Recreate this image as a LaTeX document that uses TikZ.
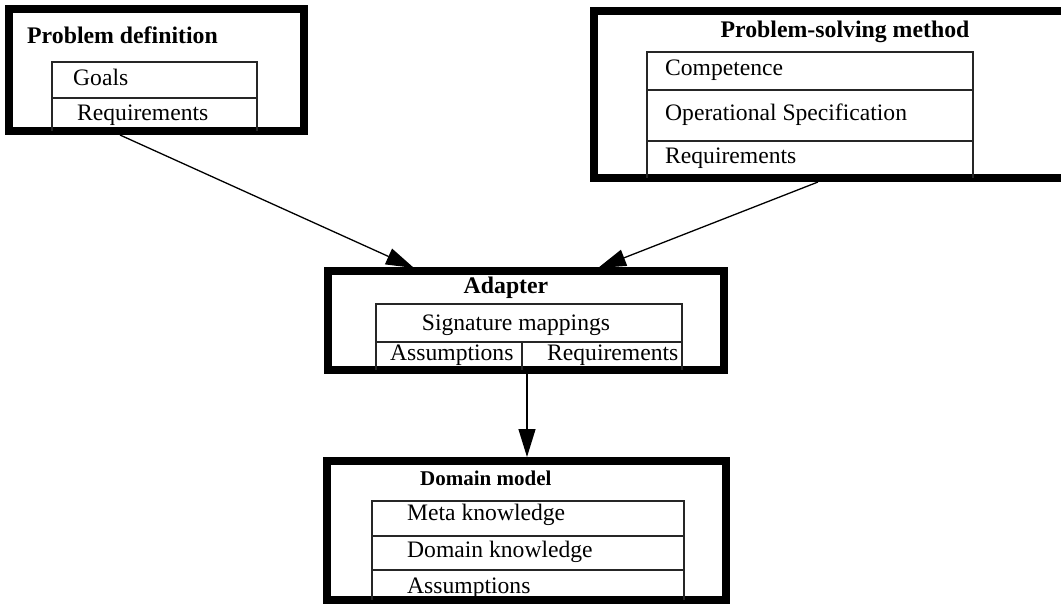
\documentclass[tikz,border=0pt]{standalone}
\usepackage{fontspec}
\setmainfont{Liberation Serif}
\usetikzlibrary{arrows.meta}
\begin{document}
\begin{tikzpicture}[x=1pt,y=-1pt,
  outerbox/.style={draw=black,line width=8pt,inner sep=0pt,rectangle},
  innerline/.style={draw=black!85,line width=1.3pt},
  lbl/.style={anchor=base west,inner sep=0pt,font=\fontsize{23.6}{28}\selectfont},
  ttl/.style={anchor=base,inner sep=0pt,font=\fontsize{23.8}{28}\selectfont\bfseries},
  conn/.style={draw=black,line width=1.3pt,-{Triangle[length=28pt,width=17pt]}}]
\useasboundingbox (0,0) rectangle (1061,603);
% outer boxes
\node[outerbox,minimum width=295pt,minimum height=122pt] (pd) at (156.5,70) {};
\node[outerbox,minimum width=472pt,minimum height=167pt] (psm) at (830,94.5) {};
\node[outerbox,minimum width=396pt,minimum height=99pt] (ad) at (526,320.5) {};
\node[outerbox,minimum width=399pt,minimum height=139pt] (dm) at (526.5,530.5) {};
% Problem definition
\draw[innerline] (52,131) -- (52,62) -- (257,62) -- (257,131);
\draw[innerline] (52,98) -- (257,98);
\node[ttl,anchor=base west] (pdt) at (27,43) {Problem definition};
\node[lbl] (pdg) at (73,85) {Goals};
\node[lbl] (pdr) at (77,120) {Requirements};
% Problem-solving method
\draw[innerline] (647,178) -- (647,52) -- (973,52) -- (973,178);
\draw[innerline] (647,90) -- (973,90);
\draw[innerline] (647,141) -- (973,141);
\node[ttl] (psmt) at (845,37) {Problem-solving method};
\node[lbl] (psmc) at (665,75) {Competence};
\node[lbl] (psmo) at (665,120) {Operational Specification};
\node[lbl] (psmr) at (665,163) {Requirements};
% Adapter
\draw[innerline] (376,370) -- (376,304) -- (682,304) -- (682,370);
\draw[innerline] (376,342) -- (682,342);
\draw[innerline] (522,342) -- (522,370);
\node[ttl] (adt) at (506,293) {Adapter};
\node[lbl,anchor=base] (ads) at (516,330) {Signature mappings};
\node[lbl] (ada) at (390,360) {Assumptions};
\node[lbl] (adr) at (547,360) {Requirements};
% Domain model
\draw[innerline] (372,600) -- (372,501) -- (684,501) -- (684,600);
\draw[innerline] (372,536) -- (684,536);
\draw[innerline] (372,570) -- (684,570);
\node[ttl,anchor=base west,font=\fontsize{21}{25}\selectfont\bfseries] (dmt) at (420,485) {Domain model};
\node[lbl] (dmm) at (407,520) {Meta knowledge};
\node[lbl] (dmd) at (407,557) {Domain knowledge};
\node[lbl] (dma) at (407,593) {Assumptions};
% connectors
\coordinate (s1) at (120,135);
\coordinate (e1) at (414,268);
\coordinate (s2) at (818,182);
\coordinate (e2) at (598,268);
\coordinate (s3) at (527,374);
\coordinate (e3) at (527,457);
\draw[conn] (s1) -- (e1);
\draw[conn] (s2) -- (e2);
\draw[conn] (s3) -- (e3);
\end{tikzpicture}
\end{document}
